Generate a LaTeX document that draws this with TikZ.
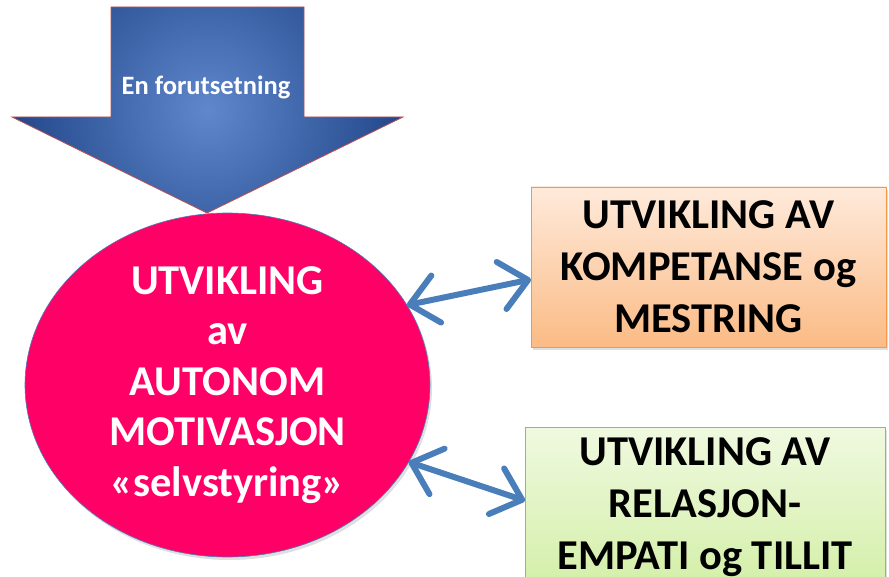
\documentclass[tikz,border=0pt]{standalone}
\usepackage{fontspec}
\setmainfont{Carlito}
\usepackage{tikz}
\usetikzlibrary{arrows.meta}
\usetikzlibrary{shapes.geometric}
\usetikzlibrary{shadows}
\definecolor{linkblue}{HTML}{4A7EBB}
\definecolor{deepblue}{HTML}{1F4386}
\definecolor{paleblue}{HTML}{5F87CC}
\definecolor{rimred}{HTML}{C0504D}
\definecolor{hotpink}{HTML}{FF0066}
\definecolor{peachtop}{HTML}{FEEADB}
\definecolor{peachbot}{HTML}{FBBB85}
\definecolor{peachrim}{HTML}{F79646}
\definecolor{greentop}{HTML}{F0F9E0}
\definecolor{greenbot}{HTML}{D3EFA8}
\definecolor{greenrim}{HTML}{9BBB59}
\tikzstyle{softshadow}=[drop shadow={opacity=0.25, shadow xshift=2pt, shadow yshift=-3pt}]
\tikzstyle{goalbox}=[draw, line width=0.8pt, inner sep=0, outer sep=0,
                     minimum width=355pt, minimum height=160pt, align=center,
                     font=\fontsize{42.5}{52}\selectfont\bfseries, softshadow]
\tikzstyle{mainoval}=[ellipse, draw=linkblue, line width=0.6pt, fill=hotpink, inner sep=0,
                      outer sep=0, minimum width=405pt, minimum height=344pt, align=center,
                      text=white, font=\fontsize{42.5}{50.5}\selectfont\bfseries, softshadow]
\tikzstyle{link}=[draw=linkblue, line width=6pt, line cap=round,
                  {Straight Barb[round, length=27pt, width=48pt]}-{Straight Barb[round, length=27pt, width=48pt]}]

\begin{document}
\begin{tikzpicture}[x=1pt, y=-1pt]
        \useasboundingbox (0,0) rectangle (889,577);
        \clip (0,0) rectangle (889,577);
        % the big arrow on top
        \path[draw=rimred, line width=0.8pt,
              path picture={\shade[inner color=paleblue, outer color=deepblue]
                  (path picture bounding box.center) circle (205pt);}]
            (111,7) -- (304,7) -- (304,117) -- (403,117) -- (207,213) -- (12,117) -- (111,117) -- cycle;
        \node[text=white, font=\fontsize{26.5}{30}\selectfont\bfseries] (premise) at (206,87) {En forutsetning};
        \node[mainoval] (motiv) at (227.5,385) {UTVIKLING\\av\\AUTONOM\\MOTIVASJON\\«selvstyring»};
        \node[goalbox, draw=peachrim, top color=peachtop, bottom color=peachbot] (kompetanse) at (708.5,267)
            {UTVIKLING AV\\KOMPETANSE og\\MESTRING};
        \node[goalbox, minimum width=360pt, draw=greenrim, top color=greentop, bottom color=greenbot] (relasjon) at (705,507)
            {UTVIKLING AV\\RELASJON-\\EMPATI og TILLIT};
        \draw[link] (motiv.24) -- (kompetanse.184);
        \draw[link] (motiv.-23) -- (relasjon.178);
    \end{tikzpicture}
\end{document}
